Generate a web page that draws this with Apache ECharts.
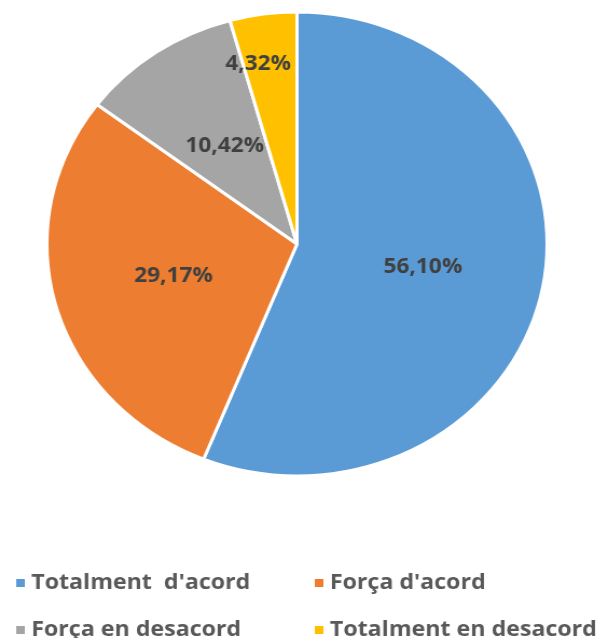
<!DOCTYPE html>
<html>
<head>
<meta charset="utf-8">
<script src="https://cdn.jsdelivr.net/npm/echarts@6/dist/echarts.min.js"></script>
<style>
  html, body { margin: 0; padding: 0; background: #fff; overflow: hidden; }
  /* the original pie is a little wider than tall, so stretch the canvas a bit */
  #main { width: 559px; height: 638px; transform: scaleX(1.078); transform-origin: 0 0; }
</style>
</head>
<body>
<div id="main"></div>
<script>
const categories = ["Totalment  d'acord", "Força d'acord", 'Força en desacord', 'Totalment en desacord']
const values = [56.10, 29.17, 10.42, 4.32]
const colors = ['#5B9BD5', '#ED7D31', '#A5A5A5', '#FFC000']

const chart = echarts.init(document.getElementById('main'))

// legend laid out as a 2x2 grid, one legend per item
const legendPos = [
  { left: 13, top: 572 },
  { left: 290, top: 572 },
  { left: 13, top: 619 },
  { left: 290, top: 619 }
]

chart.setOption({
  animation: false,
  legend: categories.map((name, i) => ({
    data: [name],
    left: legendPos[i].left,
    top: legendPos[i].top,
    padding: 0,
    orient: 'horizontal',
    icon: 'rect',
    itemWidth: 10,
    itemHeight: 10,
    textStyle: {
      color: '#595959',
      fontSize: 21.5,
      fontWeight: 'bold',
      fontFamily: 'Open Sans'
    }
  })),
  series: [{
    type: 'pie',
    center: [275.5, 244],
    radius: 232,
    startAngle: 90,
    clockwise: true,
    itemStyle: {
      borderColor: '#fff',
      borderWidth: 3
    },
    label: {
      position: 'inside',
      formatter: p => p.value.toFixed(2).replace('.', ',') + '%',
      color: '#404040',
      fontSize: 21,
      fontWeight: 'bold',
      fontFamily: 'Open Sans'
    },
    labelLine: { show: false },
    emphasis: { disabled: true },
    data: categories.map((name, i) => {
      const d = { name: name, value: values[i], itemStyle: { color: colors[i] } }
      // the small slice has its label pushed out toward the rim
      if (i === 3) d.label = { offset: [-20, -62] }
      return d
    })
  }]
})
</script>
</body>
</html>
